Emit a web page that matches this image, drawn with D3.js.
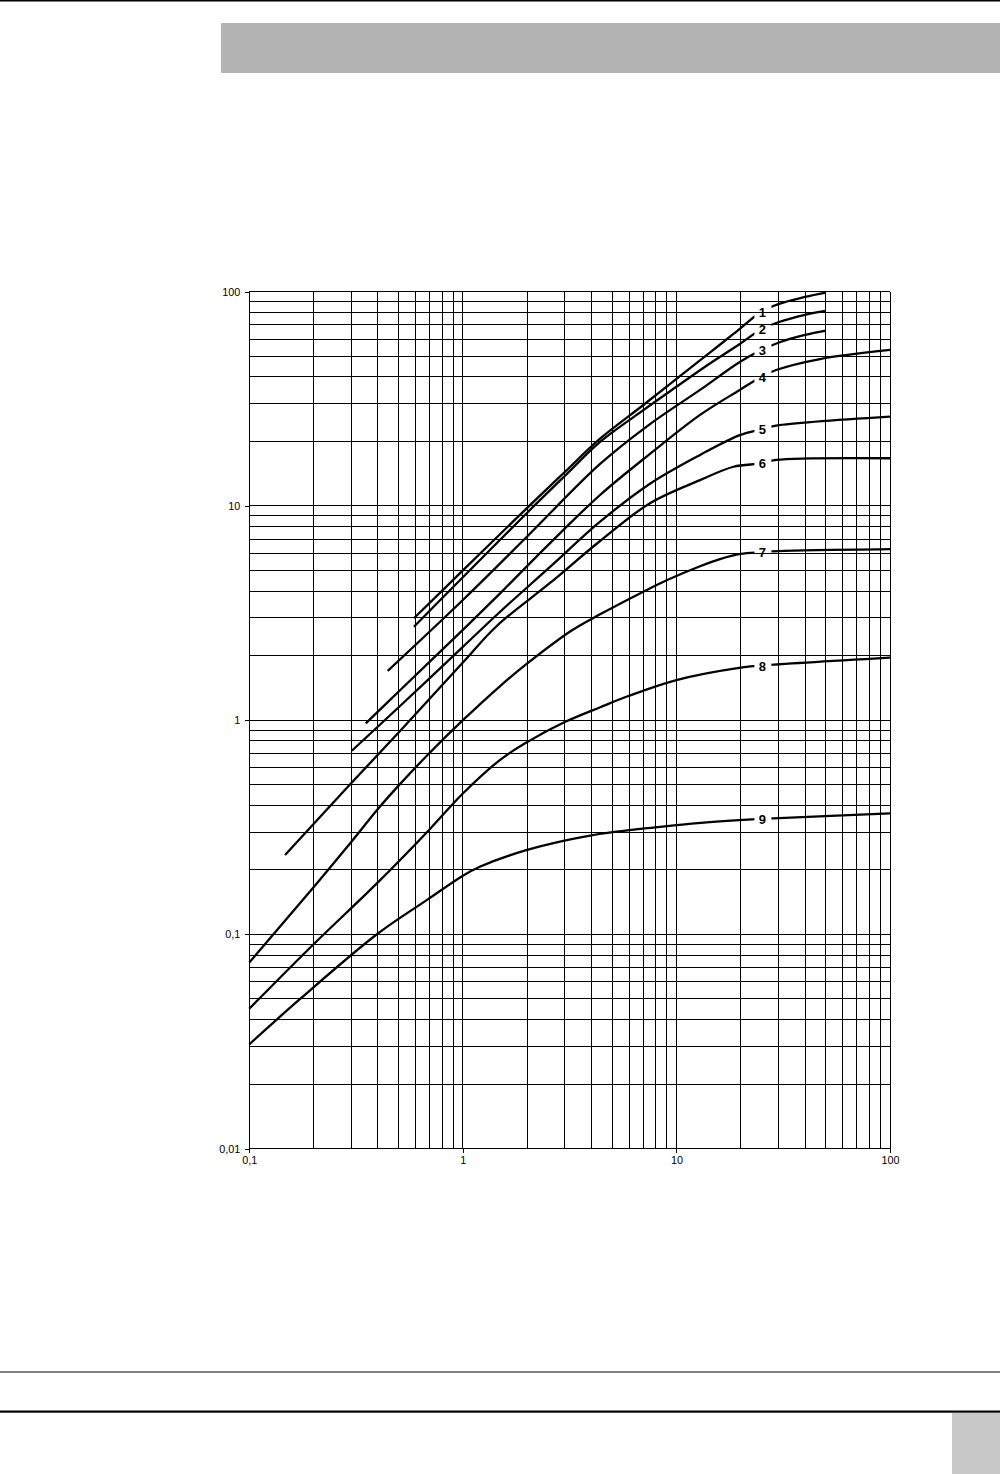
<!DOCTYPE html>
<html>
<head>
<meta charset="utf-8">
<script src="https://cdn.jsdelivr.net/npm/d3@7"></script>
<style>
  html, body { margin: 0; padding: 0; background: #fff; }
  svg { display: block; }
  text { font-family: "Liberation Sans", Arial, sans-serif; }
</style>
</head>
<body>
<svg id="chart" width="1000" height="1474"></svg>
<script>
// ---------- data ----------
const xTickValues = [0.1, 1, 10, 100];
const xTickLabels = ["0,1", "1", "10", "100"];
const yTickValues = [0.01, 0.1, 1, 10, 100];
const yTickLabels = ["0,01", "0,1", "1", "10", "100"];

const curveNames = ["1", "2", "3", "4", "5", "6", "7", "8", "9"];
const labelAtX = 25;

const c1x = [0.59, 1, 2, 3, 4.39, 7, 10, 14, 18.5, 25, 30, 40, 50];
const c1y = [2.99, 5.0, 9.8, 14.4, 20.6, 29.6, 39.2, 51, 63.5, 80.6, 87.5, 94.5, 99];

const c2x = [0.59, 1, 2, 3, 4.39, 7, 10, 14, 19.8, 25, 30, 40, 50];
const c2y = [2.73, 4.65, 9.3, 13.8, 19.9, 28.0, 36, 45.5, 57, 66.8, 72, 78, 81.3];

const c3x = [0.445, 1, 2, 4.39, 7.52, 12.9, 19.8, 25, 30, 40, 50];
const c3y = [1.70, 3.64, 7.2, 15.7, 24.1, 34.8, 47.0, 53.4, 57.8, 62.8, 65.8];

const c4x = [0.351, 0.508, 1, 1.49, 2.56, 4.39, 7.52, 12.9, 19.8, 25, 29.3, 47, 100];
const c4y = [0.967, 1.38, 2.64, 3.9, 6.71, 11.25, 17.5, 26.6, 34.8, 40.1, 43.1, 48.5, 53.5];

const c5x = [0.302, 0.508, 1, 1.49, 2.56, 4.39, 7.52, 12.9, 19.8, 25, 29.3, 100];
const c5y = [0.72, 1.165, 2.20, 3.20, 5.19, 8.44, 12.7, 17.3, 21.4, 22.8, 23.7, 26.1];

const c6x = [0.147, 0.296, 0.508, 1, 1.445, 2.56, 4.39, 7.52, 12.9, 18.5, 25, 29.3, 100];
const c6y = [0.235, 0.501, 0.89, 1.86, 2.76, 4.37, 6.86, 10.3, 13.2, 15.24, 15.8, 16.4, 16.7];

const c7x = [0.1, 0.2, 0.3, 0.4, 0.5, 0.7, 1, 1.49, 1.99, 3.23, 4.39, 7.0, 9.0, 12.9, 16, 20, 25, 30, 100];
const c7y = [0.074, 0.166, 0.27, 0.385, 0.495, 0.705, 1.0, 1.44, 1.83, 2.62, 3.12, 3.98, 4.5, 5.23, 5.65, 5.97, 6.08, 6.16, 6.29];

const c8x = [0.1, 0.2, 0.4, 0.7, 1, 1.5, 2, 3, 4.4, 6, 10, 20, 25, 100];
const c8y = [0.045, 0.09, 0.175, 0.31, 0.455, 0.655, 0.79, 0.98, 1.15, 1.30, 1.54, 1.76, 1.80, 1.96];

const c9x = [0.1, 0.173, 0.4, 0.68, 1, 1.2, 2, 4, 8.4, 13, 25, 100];
const c9y = [0.0307, 0.05, 0.101, 0.145, 0.188, 0.207, 0.248, 0.29, 0.318, 0.332, 0.346, 0.367];

const seriesX = [c1x, c2x, c3x, c4x, c5x, c6x, c7x, c8x, c9x];
const seriesY = [c1y, c2y, c3y, c4y, c5y, c6y, c7y, c8y, c9y];

// ---------- layout ----------
const svg = d3.select("#chart");
const x = d3.scaleLog().domain([0.1, 100]).range([249.3, 890]);
const y = d3.scaleLog().domain([0.01, 100]).range([1148.7, 291.7]);
const snap = v => Math.round(v) + 0.5;

// page decorations
svg.append("rect").attr("x", 0).attr("y", 0).attr("width", 1000).attr("height", 1.5).attr("fill", "#000");
svg.append("rect").attr("x", 221).attr("y", 23).attr("width", 779).attr("height", 50).attr("fill", "#b3b3b3");
svg.append("rect").attr("x", 0).attr("y", 1371.5).attr("width", 1000).attr("height", 1).attr("fill", "#000");
svg.append("rect").attr("x", 0).attr("y", 1410.5).attr("width", 1000).attr("height", 2.2).attr("fill", "#000");
svg.append("rect").attr("x", 952).attr("y", 1413).attr("width", 48).attr("height", 61).attr("fill", "#c8c8c8");

// grid
const grid = svg.append("g").attr("stroke", "#000").attr("stroke-width", 1).attr("shape-rendering", "crispEdges");
const xGrid = x.ticks();
const yGrid = y.ticks();
grid.selectAll("line.v").data(xGrid).join("line").attr("class", "v")
  .attr("x1", d => snap(x(d) - 0.5)).attr("x2", d => snap(x(d) - 0.5))
  .attr("y1", y(100)).attr("y2", y(0.01));
grid.selectAll("line.h").data(yGrid).join("line").attr("class", "h")
  .attr("y1", d => snap(y(d) - 0.5)).attr("y2", d => snap(y(d) - 0.5))
  .attr("x1", x(0.1)).attr("x2", x(100));

// axes
const yAxis = d3.axisLeft(y).tickValues(yTickValues).tickFormat((d, i) => yTickLabels[i]).tickSize(4).tickPadding(5);
const xAxis = d3.axisBottom(x).tickValues(xTickValues).tickFormat((d, i) => xTickLabels[i]).tickSize(4).tickPadding(4);
const gy = svg.append("g").attr("transform", `translate(${x(0.1)},0)`).call(yAxis);
const gx = svg.append("g").attr("transform", `translate(0,${y(0.01)})`).call(xAxis);
[gy, gx].forEach(g => {
  g.select(".domain").remove();
  g.selectAll(".tick line").attr("stroke", "#000").attr("shape-rendering", "crispEdges");
  g.selectAll(".tick text").attr("fill", "#000").attr("font-size", 10.8)
    .attr("font-family", "'Liberation Sans', Arial, sans-serif");
});

// label positions (log interpolation of each series at labelAtX)
function interpAt(xs, ys, xv) {
  for (let i = 0; i < xs.length - 1; i++) {
    if (xv >= xs[i] && xv <= xs[i + 1]) {
      const t = (Math.log(xv) - Math.log(xs[i])) / (Math.log(xs[i + 1]) - Math.log(xs[i]));
      return Math.exp(Math.log(ys[i]) + t * (Math.log(ys[i + 1]) - Math.log(ys[i])));
    }
  }
  return ys[ys.length - 1];
}
const labels = curveNames.map((n, i) => ({ name: n, xv: labelAtX, yv: interpAt(seriesX[i], seriesY[i], labelAtX) }));

// mask to break curves at labels
const defs = svg.append("defs");
const mask = defs.append("mask").attr("id", "gaps").attr("maskUnits", "userSpaceOnUse")
  .attr("x", 0).attr("y", 0).attr("width", 1000).attr("height", 1474);
mask.append("rect").attr("x", 0).attr("y", 0).attr("width", 1000).attr("height", 1474).attr("fill", "#fff");
mask.selectAll("rect.gap").data(labels).join("rect").attr("class", "gap")
  .attr("x", d => x(d.xv) - 7).attr("y", d => y(d.yv) - 8)
  .attr("width", 17).attr("height", 16).attr("fill", "#000");

// curves
const line = d3.line().x(d => x(d[0])).y(d => y(d[1])).curve(d3.curveCatmullRom.alpha(0.5));
const curves = svg.append("g").attr("mask", "url(#gaps)");
curves.selectAll("path").data(seriesX.map((xs, i) => xs.map((xv, j) => [xv, seriesY[i][j]])))
  .join("path").attr("d", line).attr("fill", "none").attr("stroke", "#000")
  .attr("stroke-width", 2.3).attr("stroke-linejoin", "round").attr("stroke-linecap", "butt");

// curve labels
svg.append("g").selectAll("text").data(labels).join("text")
  .attr("x", d => x(d.xv) + 1).attr("y", d => y(d.yv) + 0.5)
  .attr("text-anchor", "middle").attr("dominant-baseline", "central")
  .attr("font-size", 13).attr("font-weight", "bold").attr("fill", "#000")
  .text(d => d.name);
</script>
</body>
</html>
